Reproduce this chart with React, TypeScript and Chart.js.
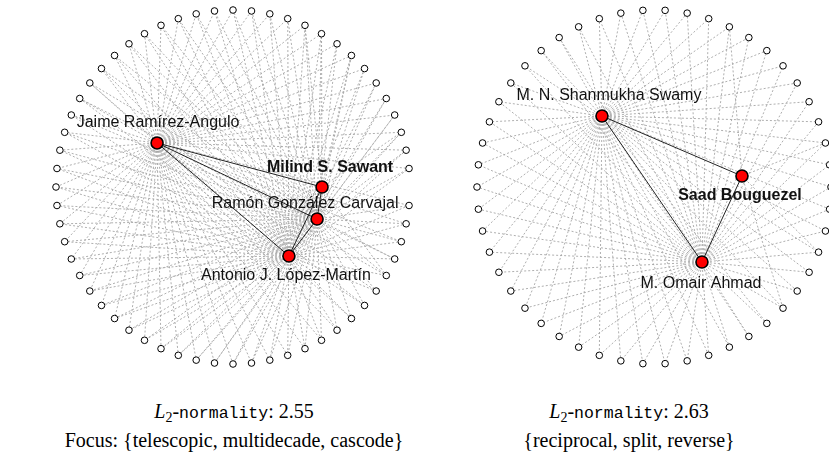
import React, { useEffect, useRef } from "react";
import { Chart, registerables } from "chart.js";
Chart.register(...registerables);

// ---------- Left network (focus: telescopic, multidecade, cascode) ----------
const leftHubNames = ["Jaime Ramírez-Angulo", "Milind S. Sawant", "Ramón González Carvajal", "Antonio J. López-Martín"];
const leftHubCodes = ["J", "M", "R", "A"];
const leftHubX = [-0.429, 0.503, 0.475, 0.316];
const leftHubY = [0.249, 0.0, -0.181, -0.39];
const leftHubBold = [false, true, false, false];
const leftSolidEdges: [number, number][] = [[0, 1], [0, 2], [0, 3], [1, 2], [1, 3], [2, 3]];
// one entry per slot on the outer circle (counter-clockwise from east); null = empty slot
const leftOuterLinks: (string | null)[] = [
  null, "JRA", "JRA", "JRAM", "JRA", "JRA", "JRA", "JRA", "JRAM", "JRA",
  "JRAM", "JRAM", "JRA", "JRA", "JRA", "JRA", "JRA", "JRA", "JRA", "JRA",
  "JRA", "JRA", "JRA", "JRA", "JRA", "JRA", "JRA", "JRA", "JRA", "JRA",
  "JRA", "JRA", "JRA", "JRA", "JRA", "JRA", "JRA", "JRA", "JRA", "JRA",
  "JRA", "JRA", "JRA", "JRA", "JRA", "JRA", "JRA", "JRA", "JRA", "JRA",
  "JRA", "JRA", "JRA", "JRA", "JRA", "JRAM", "JRA", "JRA", "JRA", "JRA",
];

// ---------- Right network (reciprocal, split, reverse) ----------
const rightHubNames = ["M. N. Shanmukha Swamy", "Saad Bouguezel", "M. Omair Ahmad"];
const rightHubCodes = ["S", "B", "O"];
const rightHubX = [-0.294, 0.497, 0.271];
const rightHubY = [0.401, 0.062, -0.424];
const rightHubBold = [false, true, false];
const rightSolidEdges: [number, number][] = [[0, 1], [0, 2], [1, 2]];
const rightOuterLinks: (string | null)[] = [
  "SO", "SO", "SOB", "SO", "SO", "SO", "SO", "SO", "SO", "SOB",
  "SO", "SO", "SO", "SO", "SO", "SO", "SO", "SO", "SO", "SO",
  "SO", "SO", "SO", "SO", "SO", "SO", "SO", "SO", "SO", "SO",
  "SO", "SO", "SO", "SO", "SO", "SO", "SO", "SO", "SO", "SO",
  "SO", "SO", "SO", "SO", "SOB", "SO", "SO", "SOB", "SO", "SO",
];

// ---------- captions ----------
const leftScore = "2.55";
const rightScore = "2.63";
const leftKeywords = "Focus: {telescopic, multidecade, cascode}";
const rightKeywords = "{reciprocal, split, reverse}";

// ---------- styles ----------
const RADIUS_PX = 177;
const CANVAS_H = 375;
const CENTER_Y = 187;
const leftLabelDX = [1, 8, -12, -3];
const leftLabelDY = [-20, -19, -15, 20];
const rightLabelDX = [7, -2, -1];
const rightLabelDY = [-20, 20, 22];

type Spec = {
  names: string[]; codes: string[]; hx: number[]; hy: number[]; bold: boolean[];
  solid: [number, number][]; links: (string | null)[]; dx: number[]; dy: number[];
  width: number; centerX: number;
};

function makeChart(canvas: HTMLCanvasElement, s: Spec) {
  const outer: { x: number; y: number }[] = [];
  const dashed: { x: number; y: number }[] = [];
  const n = s.links.length;
  for (let k = 0; k < n; k++) {
    const l = s.links[k];
    if (l === null) continue;
    const a = (2 * Math.PI * k) / n;
    const p = { x: Math.cos(a), y: Math.sin(a) };
    outer.push(p);
    for (const c of l) {
      const h = s.codes.indexOf(c);
      dashed.push({ x: s.hx[h], y: s.hy[h] }, p, { x: NaN, y: NaN });
    }
  }
  const solid: { x: number; y: number }[] = [];
  for (const [a, b] of s.solid) {
    solid.push({ x: s.hx[a], y: s.hy[a] }, { x: s.hx[b], y: s.hy[b] }, { x: NaN, y: NaN });
  }
  const hubs = s.hx.map((x, i) => ({ x, y: s.hy[i] }));

  const labelPlugin = {
    id: "hubLabels",
    afterDatasetsDraw(chart: any) {
      const ctx = chart.ctx;
      const xs = chart.scales.x, ys = chart.scales.y;
      ctx.save();
      ctx.textAlign = "center";
      ctx.textBaseline = "middle";
      ctx.fillStyle = "#111";
      s.names.forEach((name, i) => {
        ctx.font = (s.bold[i] ? "bold " : "") + "16px 'Liberation Sans', Arial, sans-serif";
        ctx.fillText(name, xs.getPixelForValue(s.hx[i]) + s.dx[i], ys.getPixelForValue(s.hy[i]) + s.dy[i]);
      });
      ctx.restore();
    },
  };

  return new Chart(canvas, {
    type: "scatter",
    data: {
      datasets: [
        { data: hubs, pointRadius: 6, pointBackgroundColor: "#ff0000", pointBorderColor: "#000", pointBorderWidth: 1.6, showLine: false, clip: false } as any,
        { data: outer, pointRadius: 3.3, pointBackgroundColor: "#fff", pointBorderColor: "#000", pointBorderWidth: 1, showLine: false, clip: false } as any,
        { data: solid, showLine: true, pointRadius: 0, borderColor: "#222", borderWidth: 1, spanGaps: false, clip: false } as any,
        { data: dashed, showLine: true, pointRadius: 0, borderColor: "#a6a6a6", borderWidth: 0.9, borderDash: [2, 2], spanGaps: false, clip: false } as any,
      ],
    },
    options: {
      animation: false,
      responsive: false,
      maintainAspectRatio: false,
      events: [],
      layout: { padding: 0, autoPadding: false } as any,
      plugins: { legend: { display: false }, tooltip: { enabled: false }, title: { display: false } },
      scales: {
        x: { type: "linear", display: false, min: -s.centerX / RADIUS_PX, max: (s.width - s.centerX) / RADIUS_PX },
        y: { type: "linear", display: false, min: -(CANVAS_H - CENTER_Y) / RADIUS_PX, max: CENTER_Y / RADIUS_PX },
      },
    },
    plugins: [labelPlugin],
  });
}

const LEFT_W = 444;
const RIGHT_W = 829 - LEFT_W;

function Caption({ cx, score, words }: { cx: number; score: string; words: string }) {
  const serif = "'Liberation Serif', 'Times New Roman', serif";
  const base: React.CSSProperties = { position: "absolute", left: cx - 250, width: 500, textAlign: "center", fontFamily: serif, fontSize: 20, lineHeight: "30px", color: "#000", whiteSpace: "nowrap" };
  return (
    <>
      <div style={{ ...base, top: 396 }}>
        <i>L</i>
        <span style={{ fontSize: 14, position: "relative", top: 4 }}>2</span>-
        <span style={{ fontFamily: "'Liberation Mono', monospace", fontSize: 16.5 }}>normality</span>: {score}
      </div>
      <div style={{ ...base, top: 425 }}>{words}</div>
    </>
  );
}

export default function App() {
  const lref = useRef<HTMLCanvasElement>(null);
  const rref = useRef<HTMLCanvasElement>(null);
  useEffect(() => {
    const c1 = makeChart(lref.current!, {
      names: leftHubNames, codes: leftHubCodes, hx: leftHubX, hy: leftHubY, bold: leftHubBold,
      solid: leftSolidEdges, links: leftOuterLinks, dx: leftLabelDX, dy: leftLabelDY, width: LEFT_W, centerX: 233,
    });
    const c2 = makeChart(rref.current!, {
      names: rightHubNames, codes: rightHubCodes, hx: rightHubX, hy: rightHubY, bold: rightHubBold,
      solid: rightSolidEdges, links: rightOuterLinks, dx: rightLabelDX, dy: rightLabelDY, width: RIGHT_W, centerX: 654 - LEFT_W,
    });
    return () => { c1.destroy(); c2.destroy(); };
  }, []);
  return (
    <div style={{ position: "fixed", left: 0, top: 0, width: 829, height: 463, background: "#fff", overflow: "hidden" }}>
      <canvas ref={lref} width={LEFT_W} height={CANVAS_H} style={{ position: "absolute", left: 0, top: 0, width: LEFT_W, height: CANVAS_H }} />
      <canvas ref={rref} width={RIGHT_W} height={CANVAS_H} style={{ position: "absolute", left: LEFT_W, top: 0, width: RIGHT_W, height: CANVAS_H }} />
      <Caption cx={234} score={leftScore} words={leftKeywords} />
      <Caption cx={629} score={rightScore} words={rightKeywords} />
    </div>
  );
}
